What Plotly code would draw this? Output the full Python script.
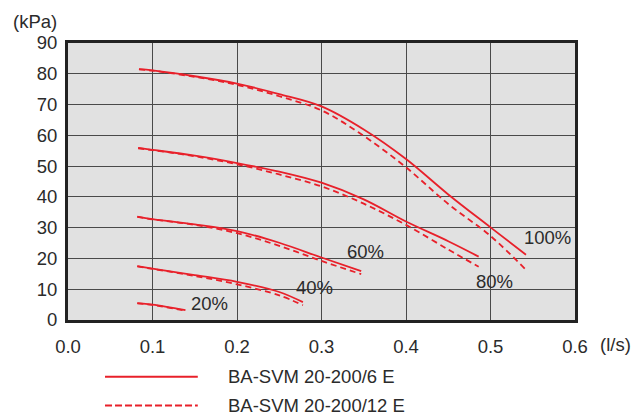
import plotly.graph_objects as go

# Flow (l/s) and pressure (kPa), per speed setting
x100 = [0.084, 0.1, 0.15, 0.2, 0.25, 0.3, 0.35, 0.4, 0.45, 0.5, 0.542]
y100_6 = [81.5, 81.1, 79.2, 76.8, 73.4, 69.4, 61.9, 52.3, 40.8, 30.1, 21.2]
y100_12 = [81.4, 81.0, 79.0, 76.4, 72.7, 68.1, 59.8, 49.6, 37.7, 27.3, 16.3]

x80 = [0.083, 0.1, 0.15, 0.2, 0.25, 0.3, 0.35, 0.4, 0.45, 0.486]
y80_6 = [55.9, 55.3, 53.4, 51.0, 48.2, 44.6, 39.2, 32.0, 25.6, 20.6]
y80_12 = [55.8, 55.2, 53.2, 50.6, 47.3, 43.4, 37.8, 30.9, 22.9, 17.3]

x60 = [0.082, 0.1, 0.15, 0.2, 0.25, 0.3, 0.347]
y60_6 = [33.6, 32.8, 31.1, 28.9, 25.1, 20.3, 15.9]
y60_12 = [33.5, 32.7, 30.9, 28.2, 24.1, 19.2, 14.9]

x40 = [0.082, 0.1, 0.15, 0.2, 0.25, 0.278]
y40_6 = [17.5, 16.7, 14.6, 12.4, 9.1, 5.8]
y40_12 = [17.4, 16.6, 14.3, 11.6, 8.0, 4.8]

x20 = [0.082, 0.1, 0.139]
y20_6 = [5.5, 5.0, 3.2]
y20_12 = [5.4, 4.9, 3.0]

# speed labels and where they sit
speed_labels = ["20%", "40%", "60%", "80%", "100%"]
label_x = [0.168, 0.292, 0.352, 0.505, 0.568]
label_y = [5.5, 10.6, 22.2, 12.5, 26.9]

legend_names = ["BA-SVM 20-200/6 E", "BA-SVM 20-200/12 E"]

RED = "#e8202a"
TXT = "#2b2b2b"
FONT = "Liberation Sans, Arial, sans-serif"
FS = 18.5

fig = go.Figure()

curves = [(x100, y100_6, y100_12), (x80, y80_6, y80_12), (x60, y60_6, y60_12),
          (x40, y40_6, y40_12), (x20, y20_6, y20_12)]
for xs, ys6, ys12 in curves:
    fig.add_trace(go.Scatter(x=xs, y=ys12, mode="lines", line_shape="spline",
                             line=dict(color=RED, width=1.8, dash="6px,4px"),
                             showlegend=False, hoverinfo="skip"))
    fig.add_trace(go.Scatter(x=xs, y=ys6, mode="lines", line_shape="spline",
                             line=dict(color=RED, width=1.8),
                             showlegend=False, hoverinfo="skip"))

for lbl, lx, ly in zip(speed_labels, label_x, label_y):
    fig.add_annotation(x=lx, y=ly, text=lbl, showarrow=False,
                       xanchor="center", yanchor="middle",
                       font=dict(size=FS, color=TXT, family=FONT))

# axis unit labels
fig.add_annotation(xref="paper", yref="paper", x=-0.065, y=1.079, text="(kPa)",
                   showarrow=False, xanchor="center", yanchor="middle",
                   font=dict(size=FS, color=TXT, family=FONT))
fig.add_annotation(xref="paper", yref="paper", x=1.079, y=-0.09, text="(l/s)",
                   showarrow=False, xanchor="center", yanchor="middle",
                   font=dict(size=FS, color=TXT, family=FONT))

# hand drawn legend below the plot
legend_rows = [(-0.205, "solid"), (-0.309, "7px,3px")]
for (ly, dash), name in zip(legend_rows, legend_names):
    fig.add_shape(type="line", xref="paper", yref="paper", x0=0.073, x1=0.256,
                  y0=ly, y1=ly, line=dict(color=RED, width=2, dash=dash))
    fig.add_annotation(xref="paper", yref="paper", x=0.312, y=ly, text=name,
                       xanchor="left", yanchor="middle", showarrow=False,
                       font=dict(size=FS, color=TXT, family=FONT))

fig.update_xaxes(range=[0, 0.6], dtick=0.1, tickformat=".1f",
                 showgrid=True, gridcolor="#4a4a4a", gridwidth=1,
                 showline=True, linecolor="#222", linewidth=3, mirror=True,
                 ticks="outside", ticklen=8, tickcolor="rgba(0,0,0,0)",
                 zeroline=False, tickfont=dict(size=FS, color=TXT, family=FONT))
fig.update_yaxes(range=[0, 90], dtick=10,
                 showgrid=True, gridcolor="#4a4a4a", gridwidth=1,
                 showline=True, linecolor="#222", linewidth=3, mirror=True,
                 ticks="outside", ticklen=4, tickcolor="rgba(0,0,0,0)",
                 zeroline=False, tickfont=dict(size=FS, color=TXT, family=FONT))

# page body has an 8px margin, so the figure is a bit smaller than the window
fig.update_layout(
    width=632, height=406,
    margin=dict(l=60, r=65, t=35, b=94),
    paper_bgcolor="white",
    plot_bgcolor="#e1e1e1",
    showlegend=False,
)

fig.write_html("out.html")
